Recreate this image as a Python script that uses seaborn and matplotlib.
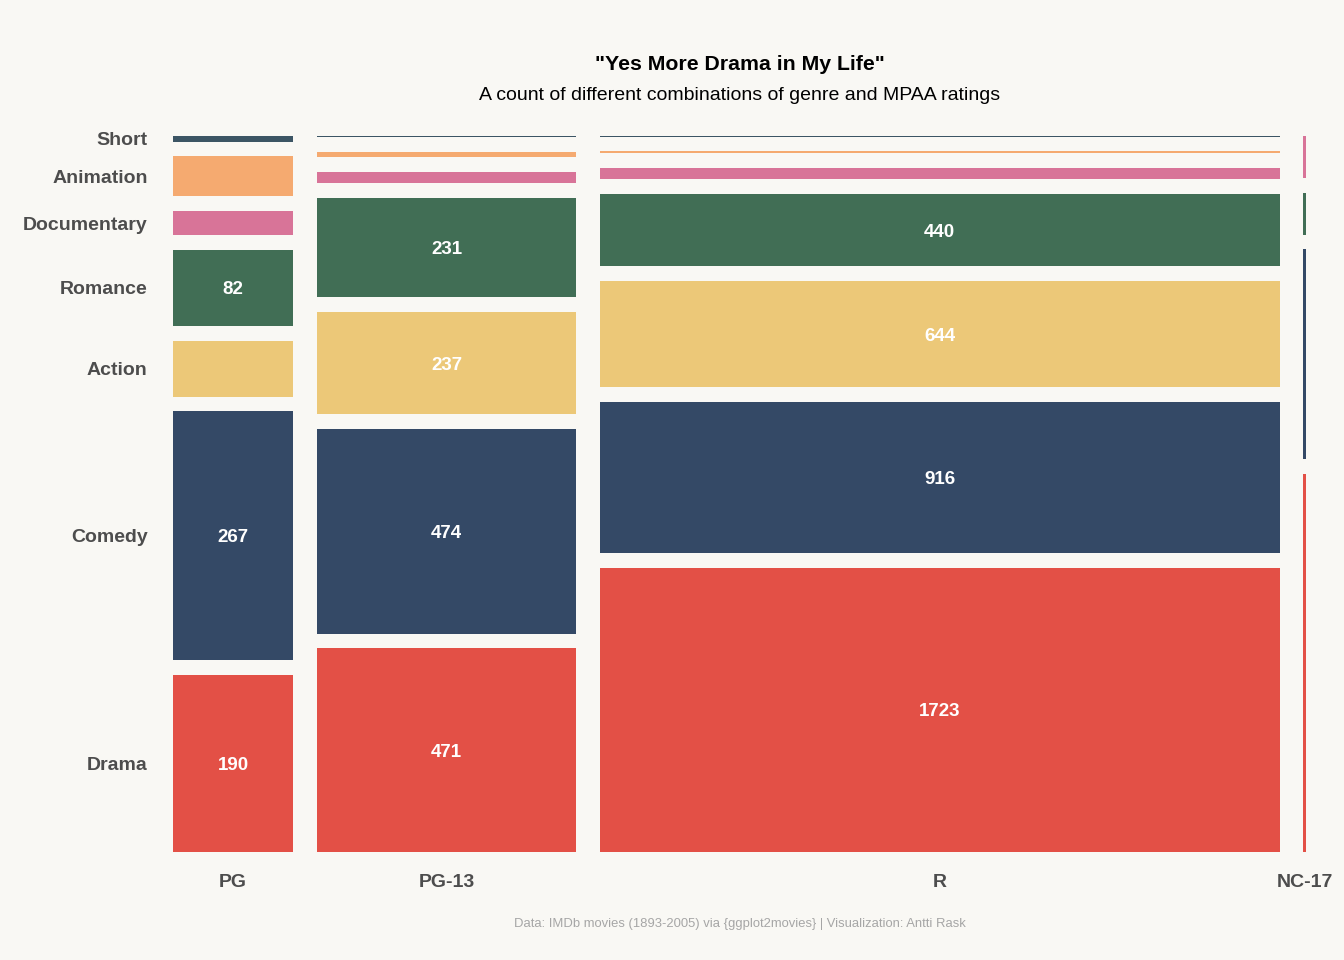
import matplotlib
matplotlib.use("Agg")
import matplotlib.pyplot as plt
import seaborn as sns
import numpy as np

# ---- data ----
ratings = ["PG", "PG-13", "R", "NC-17"]
genres = ["Drama", "Comedy", "Action", "Romance", "Documentary", "Animation", "Short"]  # bottom -> top
counts_pg = [190, 267, 60, 82, 26, 43, 6]
counts_pg13 = [471, 474, 237, 231, 26, 12, 3]
counts_r = [1723, 916, 644, 440, 70, 10, 5]
counts_nc17 = [9, 5, 0, 1, 1, 0, 0]
genre_colors = ["#e35046", "#344966", "#ecc878", "#416e55", "#d87498", "#f5aa70", "#3c5564"]

title = '"Yes More Drama in My Life"'
subtitle = "A count of different combinations of genre and MPAA ratings"
caption = "Data: IMDb movies (1893-2005) via {ggplot2movies} | Visualization: Antti Rask"
label_min = 75

bg = "#f9f8f4"
sns.set_theme(style="white", rc={"figure.facecolor": bg, "axes.facecolor": bg})
plt.rcParams["font.family"] = ["Liberation Sans", "DejaVu Sans"]

all_counts = [counts_pg, counts_pg13, counts_r, counts_nc17]
totals = np.array([sum(c) for c in all_counts], dtype=float)

fig = plt.figure(figsize=(13.44, 9.6), dpi=100)
L, R_, T, B = 173, 1306, 136, 852
ax = fig.add_axes([L / 1344, 1 - B / 960, (R_ - L) / 1344, (B - T) / 960])
ax.set_facecolor(bg)

hgap = 23.2 / (R_ - L)
vgap = 14.6 / (B - T)
wscale = (1 - hgap * (len(ratings) - 1)) / totals.sum()

x = 0.0
xcenters = []
pg_centers = []
for ci, counts in enumerate(all_counts):
    w = totals[ci] * wscale
    nz = [v for v in counts if v > 0]
    hscale = (1 - vgap * (len(nz) - 1)) / totals[ci]
    y = 0.0
    for gi, v in enumerate(counts):
        if v <= 0:
            continue
        h = v * hscale
        ax.bar(x, h, width=w, bottom=y, align="edge", color=genre_colors[gi], linewidth=0)
        if ci == 0:
            pg_centers.append(y + h / 2)
        if v >= label_min:
            ax.text(x + w / 2, y + h / 2, str(v), ha="center", va="center_baseline",
                    color="white", fontsize=13.5, fontweight="bold")
        y += h + vgap
    xcenters.append(x + w / 2)
    x += w + hgap

ax.set_xlim(0, 1)
ax.set_ylim(0, 1)
ax.set_xticks(xcenters)
ax.set_xticklabels(ratings, fontsize=14, fontweight="bold", color="#4d4d4d")
ax.set_yticks(pg_centers)
ax.set_yticklabels(genres, fontsize=14, fontweight="bold", color="#4d4d4d", va="center_baseline")
ax.tick_params(axis="x", length=0, pad=15.5)
ax.tick_params(axis="y", length=0, pad=18.3)
for s in ax.spines.values():
    s.set_visible(False)
ax.grid(False)

cx = (L + R_) / 2 / 1344
fig.text(cx, 1 - 63 / 960, title, ha="center", va="center_baseline", fontsize=15.3, fontweight="bold", color="black")
fig.text(cx, 1 - 93 / 960, subtitle, ha="center", va="center_baseline", fontsize=14, color="black")
fig.text(cx, 1 - 922 / 960, caption, ha="center", va="center_baseline", fontsize=9.4, color="#a6a6a6")

fig.savefig("out.png", dpi=100, facecolor=bg)
